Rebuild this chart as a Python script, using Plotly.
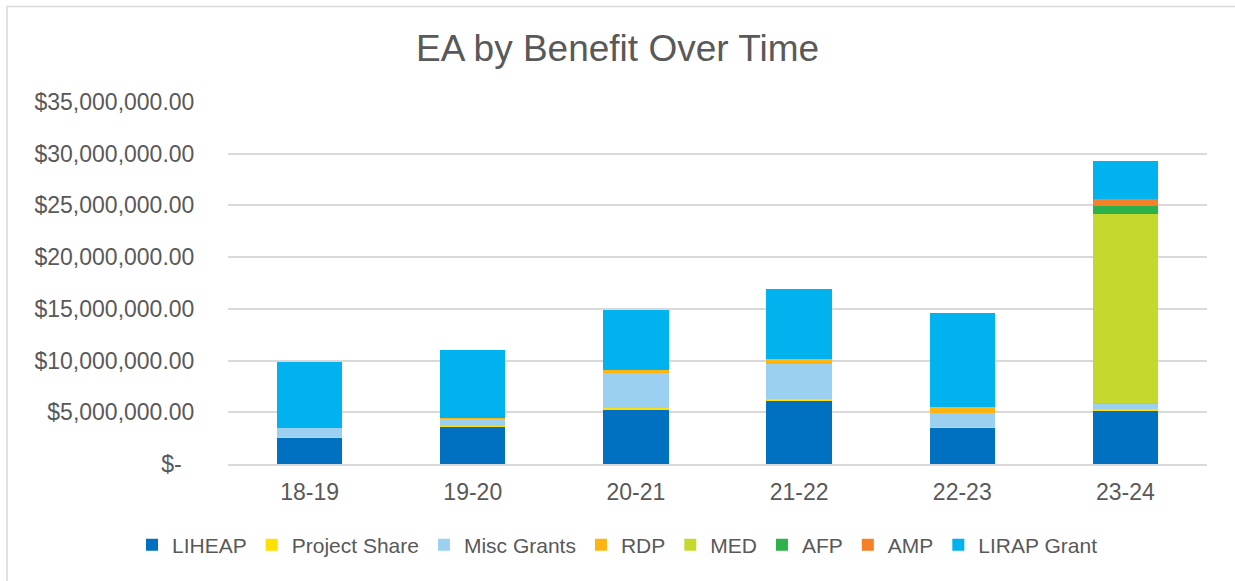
import plotly.graph_objects as go

categories = ["18-19", "19-20", "20-21", "21-22", "22-23", "23-24"]

liheap = [2600000, 3580000, 5300000, 6120000, 3540000, 5200000]
project_share = [50000, 80000, 100000, 120000, 30000, 100000]
misc_grants = [860000, 720000, 3430000, 3430000, 1320000, 560000]
rdp = [0, 20000, 290000, 480000, 580000, 50000]
med = [0, 0, 0, 0, 0, 18250000]
afp = [0, 0, 0, 0, 0, 770000]
amp = [0, 0, 0, 0, 0, 650000]
lirap_grant = [6320000, 6610000, 5740000, 6770000, 9130000, 3670000]

series_names = ["LIHEAP", "Project Share", "Misc Grants", "RDP", "MED", "AFP", "AMP", "LIRAP Grant"]
series_values = [liheap, project_share, misc_grants, rdp, med, afp, amp, lirap_grant]
series_colors = ["#0070C0", "#FFE000", "#9BD0F0", "#FFB511", "#C5D82E", "#2DB14A", "#F58025", "#00B2EE"]

y_tickvals = [0, 5000000, 10000000, 15000000, 20000000, 25000000, 30000000, 35000000]
y_ticktext = ["$-\u2007", "$5,000,000.00", "$10,000,000.00", "$15,000,000.00",
              "$20,000,000.00", "$25,000,000.00", "$30,000,000.00", "$35,000,000.00"]

FONT = "Liberation Sans, Arial, sans-serif"
TXT = "#595959"

fig = go.Figure()
for name, vals, col in zip(series_names, series_values, series_colors):
    fig.add_trace(go.Bar(x=categories, y=vals, name=name, marker=dict(color=col, line=dict(width=0))))

W, H = 1235, 581
ml, mr, mt, mb = 228, 28, 102, 117
pw, ph = W - ml - mr, H - mt - mb

fig.update_layout(
    width=W, height=H,
    barmode="stack", bargap=0.6,
    paper_bgcolor="white", plot_bgcolor="white",
    margin=dict(l=ml, r=mr, t=mt, b=mb, autoexpand=False),
    font=dict(family=FONT, color=TXT, size=23),
    title=dict(text="EA by Benefit Over Time", x=0.5, xref="container", xanchor="center",
               y=1 - 48 / H, yref="container", yanchor="middle",
               font=dict(size=37, color=TXT, family=FONT)),
    xaxis=dict(showgrid=False, showline=True, linecolor="#D9D9D9", linewidth=2,
               ticks="outside", ticklen=6, tickcolor="rgba(0,0,0,0)",
               tickfont=dict(size=23, color=TXT)),
    yaxis=dict(range=[0, 35000000], tickvals=y_tickvals, ticktext=y_ticktext,
               showgrid=True, gridcolor="#D9D9D9", gridwidth=1.5, zeroline=False,
               ticks="outside", ticklen=28, tickcolor="rgba(0,0,0,0)",
               tickfont=dict(size=23, color=TXT)),
    legend=dict(orientation="h", xref="container", yref="container", x=0.5, xanchor="center",
                y=1 - 545 / H, yanchor="middle", font=dict(size=21, color=TXT),
                traceorder="normal", itemwidth=30),
    shapes=[dict(type="rect", xref="paper", yref="paper",
                 x0=(7 - ml) / pw, x1=(W + 10 - ml) / pw,
                 y0=(H - mb - (H + 10)) / ph, y1=(H - mb - 6.5) / ph,
                 line=dict(color="#D9D9D9", width=1.5), layer="below")],
)

fig.write_html("out.html", config={"displayModeBar": False},
               post_script="document.body.style.margin='0';document.body.style.overflow='hidden';")
